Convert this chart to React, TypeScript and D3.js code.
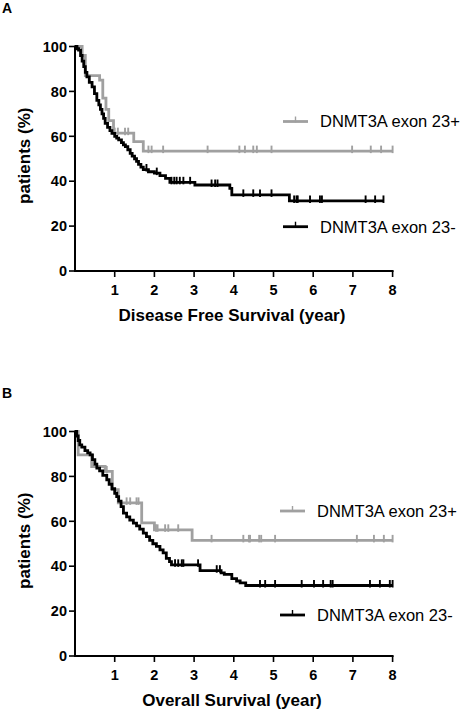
import React from "react";
import * as d3 from "d3";

// ---------- DATA ----------
const X_TICKS = [1, 2, 3, 4, 5, 6, 7, 8];
const Y_TICKS = [0, 20, 40, 60, 80, 100];
const SERIES_NAMES = ["DNMT3A exon 23+", "DNMT3A exon 23-"];
const PANEL_LABELS = ["A", "B"];
const X_TITLES = ["Disease Free Survival (year)", "Overall Survival (year)"];
const Y_TITLE = "patients (%)";

// Panel A: Disease free survival, [time (years), survival %]
const dfsPosSteps: [number, number][] = [
  [0, 100], [0.18, 96], [0.26, 87], [0.62, 85], [0.7, 77], [0.78, 72], [0.85, 67],
  [0.97, 61.4], [1.48, 57.6], [1.72, 53.4],
];
const dfsPosEnd = 8.0;
const dfsPosCensor = [1.0, 1.08, 1.26, 1.34, 1.85, 1.93, 2.22, 3.34, 4.14, 4.28, 4.49, 4.58, 4.95, 6.98, 7.45, 7.71, 8.0];

const dfsNegSteps: [number, number][] = [
  [0, 100], [0.05, 99], [0.09, 98.4], [0.14, 96], [0.18, 93.5], [0.22, 91], [0.26, 88.5], [0.3, 86.5],
  [0.36, 84], [0.43, 82], [0.49, 79], [0.55, 76], [0.6, 74], [0.64, 72], [0.68, 70], [0.72, 68], [0.76, 65.8],
  [0.82, 64], [0.88, 62.5], [0.93, 61.3], [1.0, 60], [1.05, 59.2], [1.1, 58.4], [1.17, 57.2], [1.22, 56.2],
  [1.27, 55.4], [1.33, 54], [1.39, 52.4], [1.44, 51.2], [1.5, 50], [1.55, 48.8], [1.6, 47.5], [1.66, 46.3],
  [1.72, 45.2], [1.85, 44.2], [2.0, 43.6], [2.14, 42.5], [2.28, 41.3], [2.39, 39.5], [3.02, 38.3],
  [3.9, 36.8], [3.95, 33.9], [5.4, 31.2],
];
const dfsNegEnd = 7.77;
const dfsNegCensor = [1.8, 2.06, 2.43, 2.5, 2.56, 2.64, 2.73, 2.9, 3.44, 3.53, 3.59, 4.24, 4.49, 4.66, 4.95, 5.52, 5.58, 5.61, 5.92, 6.17, 6.22, 7.32, 7.56, 7.77];

// Panel B: Overall survival
const osPosSteps: [number, number][] = [
  [0, 100], [0.08, 89.6], [0.42, 84.4], [0.76, 82.2], [0.94, 74.1], [1.09, 68.2], [1.68, 59.3],
  [2.0, 56.2], [2.95, 51.5],
];
const osPosEnd = 8.0;
const osPosCensor = [0.8, 1.3, 1.39, 1.55, 1.6, 2.04, 2.08, 2.27, 2.35, 2.6, 3.44, 4.24, 4.38, 4.41, 4.64, 4.69, 5.04, 7.1, 7.53, 7.78, 8.0];

const osNegSteps: [number, number][] = [
  [0, 100], [0.04, 98], [0.08, 96], [0.12, 94], [0.17, 93], [0.25, 91.5], [0.32, 90.5], [0.38, 89.6],
  [0.44, 87.5], [0.5, 85.5], [0.55, 83.7], [0.62, 82.5], [0.7, 80.5], [0.8, 78.5], [0.86, 76.5], [0.93, 74.5],
  [1.0, 72.5], [1.05, 71], [1.1, 69], [1.16, 66.5], [1.22, 63.6], [1.3, 62], [1.38, 60.5], [1.47, 59.2],
  [1.55, 58], [1.63, 56.5], [1.72, 54.7], [1.8, 53.2], [1.88, 51.5], [1.96, 50], [2.05, 48.8], [2.14, 47.3],
  [2.22, 45.9], [2.3, 43.5], [2.38, 42], [2.43, 40.6], [3.15, 38], [3.68, 37], [3.76, 36.4], [3.95, 34.5],
  [4.07, 33.4], [4.16, 32.6], [4.3, 31.4],
];
const osNegEnd = 8.0;
const osNegCensor = [2.52, 2.6, 2.69, 2.73, 3.1, 3.57, 3.65, 4.66, 4.79, 5.04, 5.71, 6.02, 6.25, 6.44, 6.49, 7.43, 7.68, 7.93, 8.0];

// ---------- STYLE ----------
const GRAY = "#a0a0a0";
const BLACK = "#000000";
const FONT = "'Liberation Sans', Arial, Helvetica, sans-serif";

type Curve = { steps: [number, number][]; end: number; censor: number[]; color: string };

function survAt(steps: [number, number][], t: number) {
  let s = steps[0][1];
  for (const [tt, v] of steps) {
    if (tt <= t) s = v;
  }
  return s;
}

function Panel(props: {
  top: number;
  label: string;
  xTitle: string;
  curves: Curve[];
  legend: { x1: number; x2: number; y: number; textX: number; textY: number }[];
}) {
  const { top, label, xTitle, curves, legend } = props;
  const x = d3.scaleLinear().domain([0, 8]).range([75, 392.6]);
  const y = d3.scaleLinear().domain([0, 100]).range([top + 224.5, top]);
  const line = d3
    .line<[number, number]>()
    .x((d) => x(d[0]))
    .y((d) => y(d[1]))
    .curve(d3.curveStepAfter);
  const y0 = y(0);
  return (
    <g>
      <text x={2} y={top - 34} fontFamily={FONT} fontWeight="bold" fontSize={14}>
        {label}
      </text>
      {/* curves */}
      {curves.map((c, i) => {
        const pts: [number, number][] = [...c.steps, [c.end, c.steps[c.steps.length - 1][1]]];
        return (
          <g key={i}>
            <path d={line(pts) || ""} fill="none" stroke={c.color} strokeWidth={2.8} />
            {c.censor.map((t, j) => {
              const yy = y(survAt(c.steps, t));
              return (
                <line key={j} x1={x(t)} x2={x(t)} y1={yy - 5.5} y2={yy + 2} stroke={c.color} strokeWidth={1.9} />
              );
            })}
          </g>
        );
      })}
      {/* axes */}
      <line x1={x(0)} x2={x(0)} y1={y(100) - 1} y2={y0 + 1} stroke="#000" strokeWidth={2} />
      <line x1={x(0) - 1} x2={x(8) + 1} y1={y0} y2={y0} stroke="#000" strokeWidth={2} />
      {Y_TICKS.map((v) => (
        <g key={v}>
          <line x1={x(0) - 6} x2={x(0)} y1={y(v)} y2={y(v)} stroke="#000" strokeWidth={1.6} />
          <text
            x={x(0) - 8}
            y={y(v)}
            dy="0.36em"
            textAnchor="end"
            fontFamily={FONT}
            fontWeight="bold"
            fontSize={14.5}
          >
            {v}
          </text>
        </g>
      ))}
      {X_TICKS.map((v) => (
        <g key={v}>
          <line x1={x(v)} x2={x(v)} y1={y0} y2={y0 + 6} stroke="#000" strokeWidth={1.6} />
          <text x={x(v)} y={y0 + 24} textAnchor="middle" fontFamily={FONT} fontWeight="bold" fontSize={14.5}>
            {v}
          </text>
        </g>
      ))}
      <text x={232} y={y0 + 50} textAnchor="middle" fontFamily={FONT} fontWeight="bold" fontSize={17}>
        {xTitle}
      </text>
      <text
        transform={`translate(30,${(y(100) + y0) / 2 - 3}) rotate(-90)`}
        textAnchor="middle"
        fontFamily={FONT}
        fontWeight="bold"
        fontSize={17}
      >
        {Y_TITLE}
      </text>
      {/* legend */}
      {legend.map((l, i) => (
        <g key={i}>
          <line x1={l.x1} x2={l.x2} y1={l.y} y2={l.y} stroke={curves[i].color} strokeWidth={2.8} />
          <line
            x1={(l.x1 + l.x2) / 2}
            x2={(l.x1 + l.x2) / 2}
            y1={l.y - 5}
            y2={l.y + 1}
            stroke={curves[i].color}
            strokeWidth={1.4}
          />
          <text x={l.textX} y={l.textY} fontFamily={FONT} fontSize={16.5}>
            {SERIES_NAMES[i]}
          </text>
        </g>
      ))}
    </g>
  );
}

export default function App() {
  return (
    <svg
      width={464}
      height={713}
      style={{ position: "absolute", left: 0, top: 0, background: "#fff" }}
    >
      <Panel
        top={46.5}
        label={PANEL_LABELS[0]}
        xTitle={X_TITLES[0]}
        curves={[
          { steps: dfsPosSteps, end: dfsPosEnd, censor: dfsPosCensor, color: GRAY },
          { steps: dfsNegSteps, end: dfsNegEnd, censor: dfsNegCensor, color: BLACK },
        ]}
        legend={[
          { x1: 283, x2: 308, y: 121.5, textX: 320, textY: 127 },
          { x1: 283, x2: 308, y: 226.7, textX: 320, textY: 232.5 },
        ]}
      />
      <Panel
        top={431.5}
        label={PANEL_LABELS[1]}
        xTitle={X_TITLES[1]}
        curves={[
          { steps: osPosSteps, end: osPosEnd, censor: osPosCensor, color: GRAY },
          { steps: osNegSteps, end: osNegEnd, censor: osNegCensor, color: BLACK },
        ]}
        legend={[
          { x1: 280, x2: 305, y: 511, textX: 317, textY: 517 },
          { x1: 280, x2: 305, y: 615, textX: 317, textY: 621 },
        ]}
      />
    </svg>
  );
}
